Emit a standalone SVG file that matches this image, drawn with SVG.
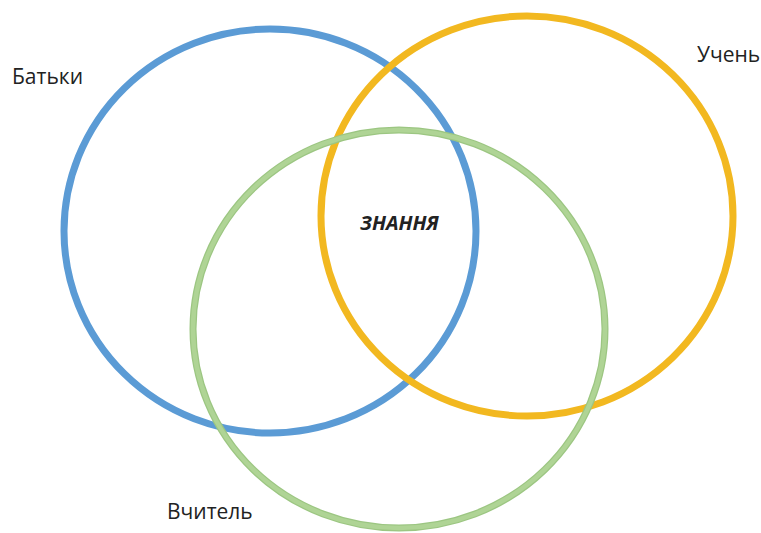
<svg xmlns="http://www.w3.org/2000/svg" width="761" height="533" viewBox="0 0 761 533">
<style>
.c{fill:none;stroke-width:7}
.t{font-family:"Open Sans","Liberation Sans",sans-serif;font-size:21px;fill:#222}
</style>
<rect width="761" height="533" fill="#fff"/>
<g id="batky"><ellipse class="c" cx="270" cy="231" rx="206" ry="202" stroke="#5B9BD5"/><text class="t" x="12" y="84">Батьки</text></g>
<g id="uchen"><ellipse class="c" cx="527" cy="216" rx="206" ry="200" stroke="#F2B820"/><text class="t" x="697" y="62">Учень</text></g>
<g id="vchytel"><ellipse class="c" cx="399" cy="329" rx="206" ry="199" stroke="#9CC682"/><ellipse fill="none" stroke-width="4.5" cx="399" cy="329" rx="206" ry="199" stroke="#AFD495"/><text class="t" x="167" y="519">Вчитель</text></g>
<g id="znannia"><text x="360" y="230" font-family="'Open Sans','Liberation Sans',sans-serif" font-size="20" font-weight="bold" font-style="italic" fill="#222">ЗНАННЯ</text></g>
</svg>
